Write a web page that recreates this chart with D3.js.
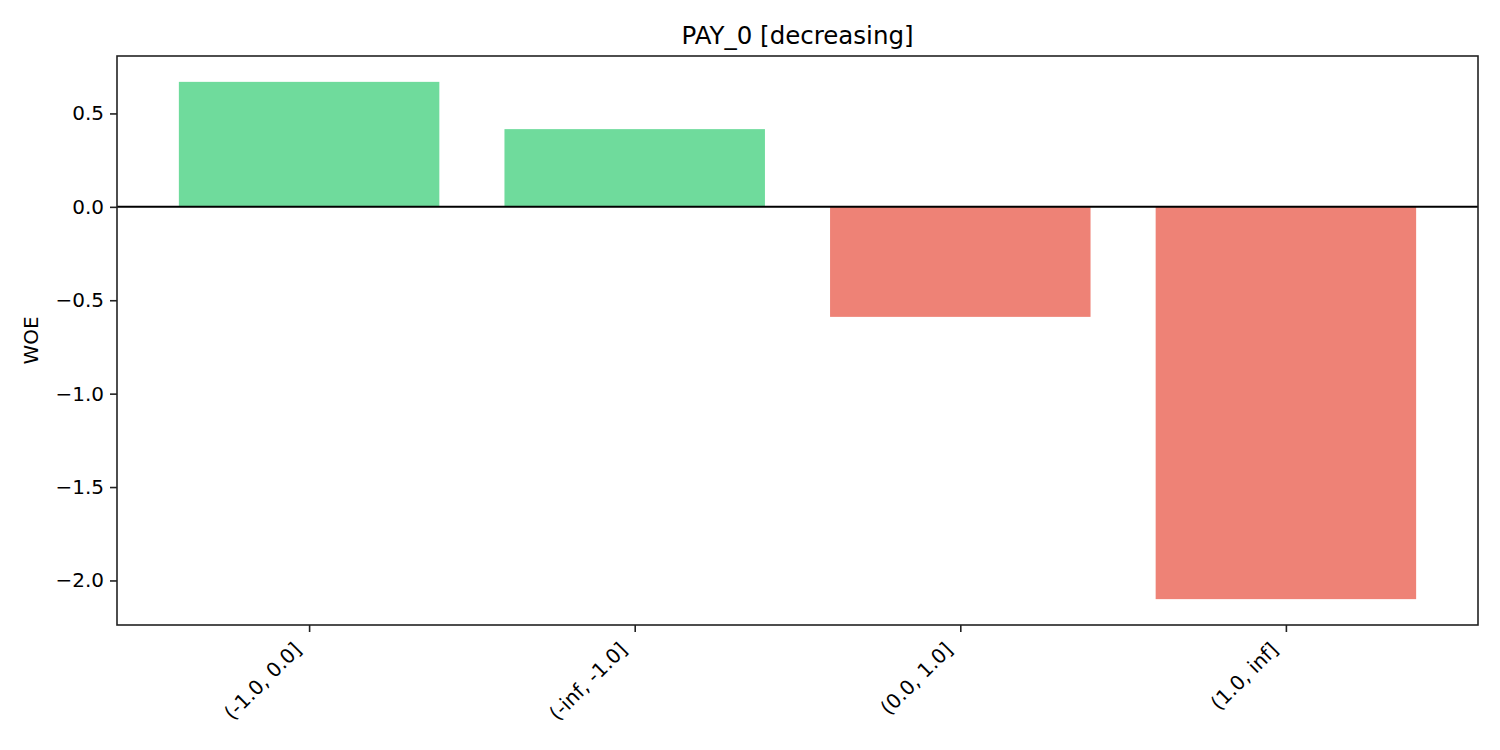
<!DOCTYPE html>
<html>
<head>
<meta charset="utf-8">
<script src="https://cdn.jsdelivr.net/npm/d3@7"></script>
<style>
  html, body { margin: 0; padding: 0; background: #fff; }
  svg { display: block; font-family: "DejaVu Sans", sans-serif; }
</style>
</head>
<body>
<svg id="chart" width="1500" height="750"></svg>
<script>
const categories = ["(-1.0, 0.0]", "(-inf, -1.0]", "(0.0, 1.0]", "(1.0, inf]"];
const woeValues = [0.669, 0.416, -0.589, -2.100];
const yTicks = [0.5, 0.0, -0.5, -1.0, -1.5, -2.0];
const titleText = "PAY_0 [decreasing]";
const yLabel = "WOE";

const W = 1500, H = 750;
const m = { left: 117, right: 1478, top: 56, bottom: 625 };
const svg = d3.select("#chart");

// x: linear over category index, matplotlib-style margins
const barW = 0.8;
const xMin = -barW / 2, xMax = categories.length - 1 + barW / 2;
const xPad = (xMax - xMin) * 0.05;
const x = d3.scaleLinear().domain([xMin - xPad, xMax + xPad]).range([m.left, m.right]);

const yLo = Math.min(0, d3.min(woeValues)), yHi = Math.max(0, d3.max(woeValues));
const yPad = (yHi - yLo) * 0.05;
const y = d3.scaleLinear().domain([yLo - yPad, yHi + yPad]).range([m.bottom, m.top]);

const fmt = v => (v < 0 ? "\u2212" : "") + Math.abs(v).toFixed(1);

// bars
svg.append("g").selectAll("rect").data(woeValues).join("rect")
  .attr("x", (d, i) => x(i - barW / 2))
  .attr("width", (d, i) => x(i + barW / 2) - x(i - barW / 2))
  .attr("y", d => y(Math.max(0, d)))
  .attr("height", d => Math.abs(y(d) - y(0)))
  .attr("fill", d => d >= 0 ? "#6fdb9c" : "#ee8276");

// zero line
svg.append("line")
  .attr("x1", m.left).attr("x2", m.right)
  .attr("y1", y(0)).attr("y2", y(0))
  .attr("stroke", "#000").attr("stroke-width", 2);

// y axis
const yAxis = d3.axisLeft(y).tickValues(yTicks).tickFormat(fmt).tickSize(7).tickPadding(6);
const gy = svg.append("g").attr("transform", `translate(${m.left},0)`).call(yAxis);
gy.select(".domain").remove();
gy.selectAll(".tick line").attr("stroke", "#222").attr("stroke-width", 1.6);
gy.selectAll(".tick text").attr("font-size", 20).attr("fill", "#000")
  .attr("font-family", "DejaVu Sans");

// x axis
const xAxis = d3.axisBottom(x).tickValues(d3.range(categories.length))
  .tickFormat(i => categories[i]).tickSize(7);
const gx = svg.append("g").attr("transform", `translate(0,${m.bottom})`).call(xAxis);
gx.select(".domain").remove();
gx.selectAll(".tick line").attr("stroke", "#222").attr("stroke-width", 1.6);
gx.selectAll(".tick text")
  .attr("font-size", 20).attr("fill", "#000").attr("font-family", "DejaVu Sans")
  .attr("text-anchor", "end")
  .attr("y", 0).attr("dy", "0.35em")
  .attr("transform", "translate(-12,21) rotate(-45)");

// frame
svg.append("rect")
  .attr("x", m.left).attr("y", m.top)
  .attr("width", m.right - m.left).attr("height", m.bottom - m.top)
  .attr("fill", "none").attr("stroke", "#222").attr("stroke-width", 1.6);

// title
svg.append("text")
  .attr("x", (m.left + m.right) / 2).attr("y", 44)
  .attr("text-anchor", "middle").attr("font-size", 24.5).attr("fill", "#000")
  .text(titleText);

// y label
svg.append("text")
  .attr("transform", `translate(38,${(m.top + m.bottom) / 2}) rotate(-90)`)
  .attr("text-anchor", "middle").attr("font-size", 20).attr("fill", "#000")
  .text(yLabel);
</script>
</body>
</html>
